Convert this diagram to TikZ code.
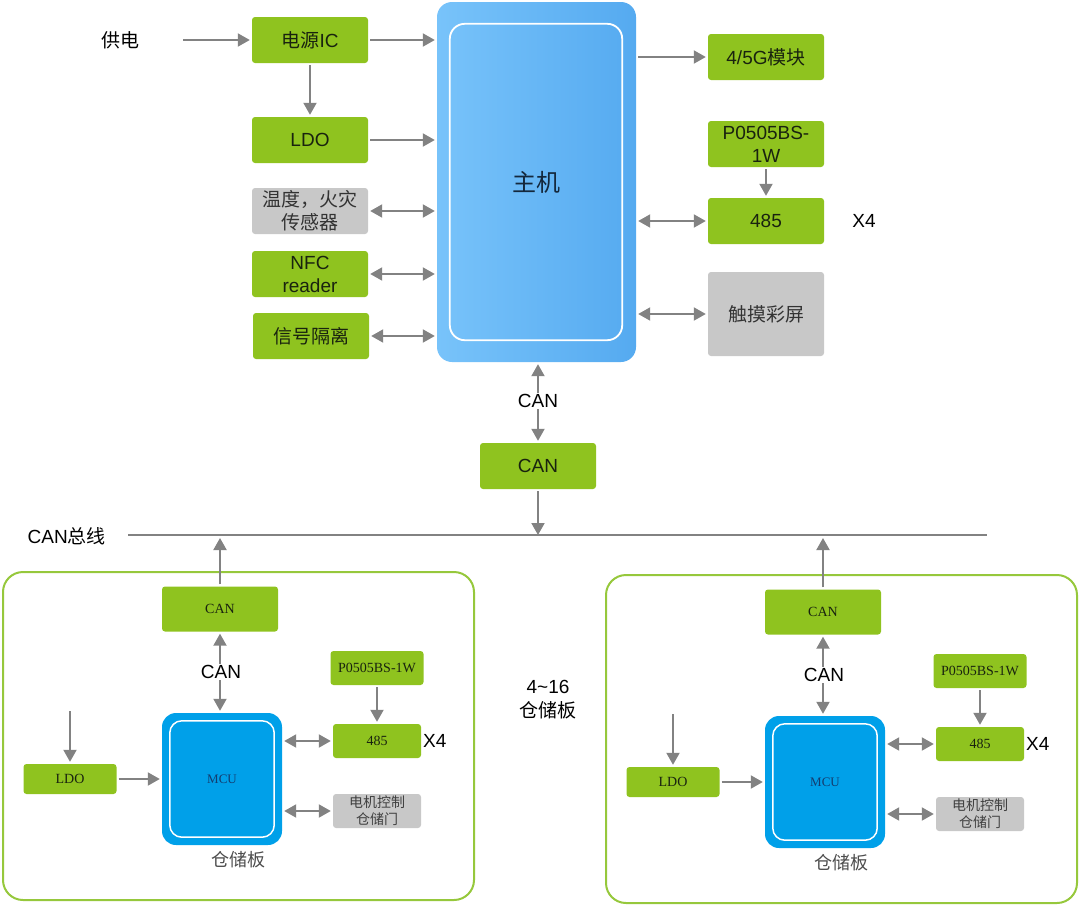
\documentclass[tikz,border=0pt]{standalone}
\usepackage{fontspec}
\setmainfont{Liberation Sans}
\newfontfamily\cjk{Noto Sans CJK SC}
\newfontfamily\serifl{Liberation Serif}
\usetikzlibrary{arrows.meta}

\definecolor{boxgreen}{RGB}{143,195,31}
\definecolor{boardgreen}{RGB}{150,200,60}
\definecolor{boxgray}{RGB}{200,200,200}
\definecolor{arrgray}{RGB}{130,130,130}
\definecolor{mcublue}{RGB}{0,160,233}
\definecolor{mainlight}{RGB}{120,195,250}
\definecolor{maindark}{RGB}{85,170,240}
\definecolor{boxtext}{RGB}{25,35,15}

\tikzset{
  gbox/.style={fill=boxgreen, rounded corners=3pt, minimum width=116pt,
    minimum height=46pt, align=center, text=boxtext, inner sep=1pt,
    font=\fontsize{19}{23}\selectfont},
  graybox/.style={gbox, fill=boxgray, text=black!80},
  sbox/.style={gbox, minimum width=88pt, minimum height=34pt,
    font=\serifl\fontsize{14}{17}\selectfont},
  sgray/.style={sbox, fill=boxgray, text=black!75,
    font=\cjk\fontsize{14}{17}\selectfont},
  lbl/.style={align=center, inner sep=1pt, font=\fontsize{19}{24}\selectfont},
  arr/.style={draw=arrgray, line width=2pt, shorten >=2pt, shorten <=2pt,
    -{Triangle[length=12pt,width=13pt]}},
  biarr/.style={arr, {Triangle[length=12pt,width=13pt]}-{Triangle[length=12pt,width=13pt]}},
  board/.style={draw=boardgreen, line width=2pt, rounded corners=20pt}
}

\begin{document}
\begin{tikzpicture}[x=1pt,y=-1pt]
  \useasboundingbox (0,0) rectangle (1080,905);

  % main unit
  \node[minimum width=199pt, minimum height=360pt, rounded corners=15pt,
    left color=mainlight, right color=maindark, draw=none,
    font=\cjk\fontsize{24}{28}\selectfont, text={rgb,255:red,20;green,40;blue,60}]
    (main) at (536.5,182) {主机};
  \draw[white, line width=1.8pt, rounded corners=15pt]
    ([shift={(13,22)}]main.north west) rectangle ([shift={(-14,-22)}]main.south east);

  % left column
  \node[lbl] (gd) at (120,40) {\cjk 供电};
  \coordinate (pwrin) at (181,40);
  \node[gbox] (psu) at (310,40) {\cjk 电源\normalfont IC};
  \node[gbox] (ldo) at (310,140) {LDO};
  \node[graybox] (sens) at (310,211) {\cjk 温度，火灾\\\cjk 传感器};
  \node[gbox] (nfc) at (310,274) {NFC\\reader};
  \node[gbox] (iso) at (311,336) {\cjk 信号隔离};

  \draw[arr] (pwrin) -- (psu.west);
  \draw[arr] (psu.south) -- (ldo.north);
  \draw[arr] (psu.east) -- (psu.east -| main.west);
  \draw[arr] (ldo.east) -- (ldo.east -| main.west);
  \draw[biarr] (sens.east) -- (sens.east -| main.west);
  \draw[biarr] (nfc.east) -- (nfc.east -| main.west);
  \draw[biarr] (iso.east) -- (iso.east -| main.west);

  % right column
  \node[gbox] (g45) at (766,57) {4/5G\cjk 模块};
  \node[gbox] (pw1) at (766,144) {P0505BS-\\1W};
  \node[gbox] (rs1) at (766,221) {485};
  \node[lbl] (x41) at (864,221) {X4};
  \node[graybox, minimum height=84pt] (lcd) at (766,314) {\cjk 触摸彩屏};

  \draw[arr] (main.east |- g45.west) -- (g45.west);
  \draw[arr] (pw1.south) -- (rs1.north);
  \draw[biarr] (main.east |- rs1.west) -- (rs1.west);
  \draw[biarr] (main.east |- lcd.west) -- (lcd.west);

  % CAN to bus
  \node[gbox] (canm) at (538,466) {CAN};
  \draw[biarr] (main.south -| canm.north) -- (canm.north);
  \node[lbl, fill=white] (canlm) at (538,401) {CAN};
  \coordinate (busL) at (128,535);
  \coordinate (busR) at (987,535);
  \draw[arrgray, line width=2pt] (busL) -- (busR);
  \node[lbl, anchor=east] (busname) at (107,536) {CAN\cjk 总线};
  \draw[arr, shorten >=0pt] (canm.south) -- (canm.south |- busL);

  \node[lbl] (cnt) at (548,700) {4\textasciitilde16\\\cjk 仓储板};

  % storage boards
  \foreach \b/\dx/\dy in {l/0/0, r/603/3} {
    \begin{scope}[shift={(\dx,\dy)}]
      \draw[board] (3,572) rectangle (474,900);
      \node[sbox, minimum width=116pt, minimum height=45pt] (can\b) at (220,609) {CAN};
      \node[minimum width=120pt, minimum height=132pt, fill=mcublue,
        rounded corners=14pt, font=\serifl\fontsize{13}{15}\selectfont,
        text={rgb,255:red,20;green,60;blue,110}] (mcu\b) at (222,779) {MCU};
      \draw[white, line width=1.5pt, rounded corners=12pt]
        ([shift={(8,8)}]mcu\b.north west) rectangle ([shift={(-8,-8)}]mcu\b.south east);
      \node[lbl, font=\cjk\fontsize{18}{20}\selectfont, text=black!70] (brd\b) at (238,860) {仓储板};
      \node[sbox, minimum width=93pt] (pw\b) at (377,668) {P0505BS-1W};
      \node[sbox] (rs\b) at (377,741) {485};
      \node[lbl, anchor=west] (x4\b) at (422,741) {X4};
      \node[sgray] (mot\b) at (377,811) {电机控制\\仓储门};
      \node[sbox, minimum width=93pt, minimum height=30pt] (ldo\b) at (70,779) {LDO};
      \coordinate (ldoin\b) at (70,711);

      \draw[arr, shorten <=0pt] (ldoin\b) -- (ldo\b.north);
      \draw[arr] (ldo\b.east) -- (ldo\b.east -| mcu\b.west);
      \draw[arr] (pw\b.south) -- (rs\b.north);
      \draw[biarr] (mcu\b.east |- rs\b.west) -- (rs\b.west);
      \draw[biarr] (mcu\b.east |- mot\b.west) -- (mot\b.west);
      \draw[biarr] (can\b.south) -- (can\b.south |- mcu\b.north);
      \node[lbl, fill=white] (canl\b) at (221,672) {CAN};
    \end{scope}
    \draw[arr, shorten >=3pt] (can\b.north) -- (can\b.north |- busL);
  }
\end{tikzpicture}
\end{document}
